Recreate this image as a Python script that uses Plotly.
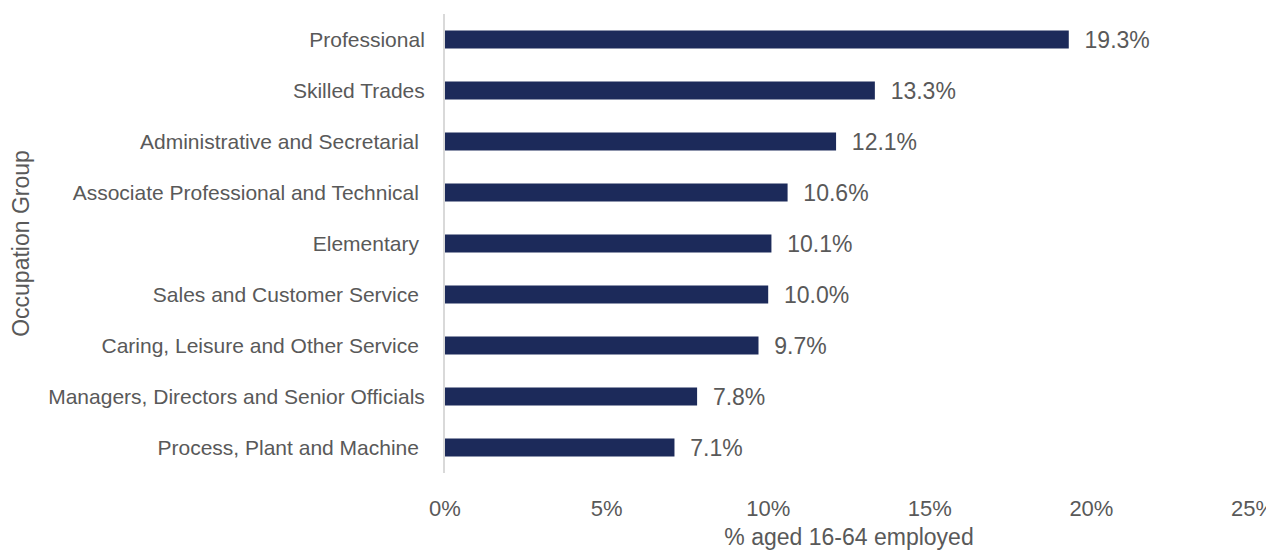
import plotly.graph_objects as go

categories = [
    "Professional",
    "Skilled Trades",
    "Administrative and Secretarial\u00a0",
    "Associate Professional and Technical\u00a0",
    "Elementary\u00a0",
    "Sales and Customer Service\u00a0",
    "Caring, Leisure and Other Service\u00a0",
    "Managers, Directors and Senior Officials",
    "Process, Plant and Machine\u00a0",
]
values = [19.3, 13.3, 12.1, 10.6, 10.1, 10.0, 9.7, 7.8, 7.1]
x_ticks = [0, 5, 10, 15, 20, 25]
x_tick_labels = ["0%", "5%", "10%", "15%", "20%", "25%"]

FONT = "Liberation Sans, Arial, sans-serif"
GREY = "#595959"

fig = go.Figure(
    go.Bar(
        x=values,
        y=categories,
        orientation="h",
        marker=dict(color="#1c2a5a", line=dict(width=0)),
        texttemplate="\u00a0\u00a0%{x:.1f}%",
        textposition="outside",
        constraintext="none",
        textfont=dict(family=FONT, size=23, color=GREY),
        cliponaxis=False,
    )
)

fig.update_layout(
    width=1266,
    height=542,
    margin=dict(l=437, r=21, t=6, b=77),
    paper_bgcolor="white",
    plot_bgcolor="white",
    bargap=0.647,
    showlegend=False,
    font=dict(family=FONT, color=GREY),
)

fig.update_xaxes(
    range=[0, 25],
    tickvals=x_ticks,
    ticktext=x_tick_labels,
    tickfont=dict(family=FONT, size=22, color=GREY),
    showgrid=False,
    zeroline=False,
    showline=False,
    ticks="",
    ticklabelstandoff=20,
    ticklabeloverflow="allow",
    title=dict(text="% aged 16-64 employed", font=dict(family=FONT, size=23, color=GREY), standoff=9),
    automargin=False,
)

fig.update_yaxes(
    autorange="reversed",
    tickfont=dict(family=FONT, size=21, color=GREY),
    showgrid=False,
    zeroline=False,
    showline=True,
    linecolor="#d9d9d9",
    linewidth=2,
    ticks="",
    ticklabelstandoff=14,
    title=dict(text="Occupation Group", font=dict(family=FONT, size=23, color=GREY), standoff=16),
    automargin=False,
)

fig.write_html("out.html")
